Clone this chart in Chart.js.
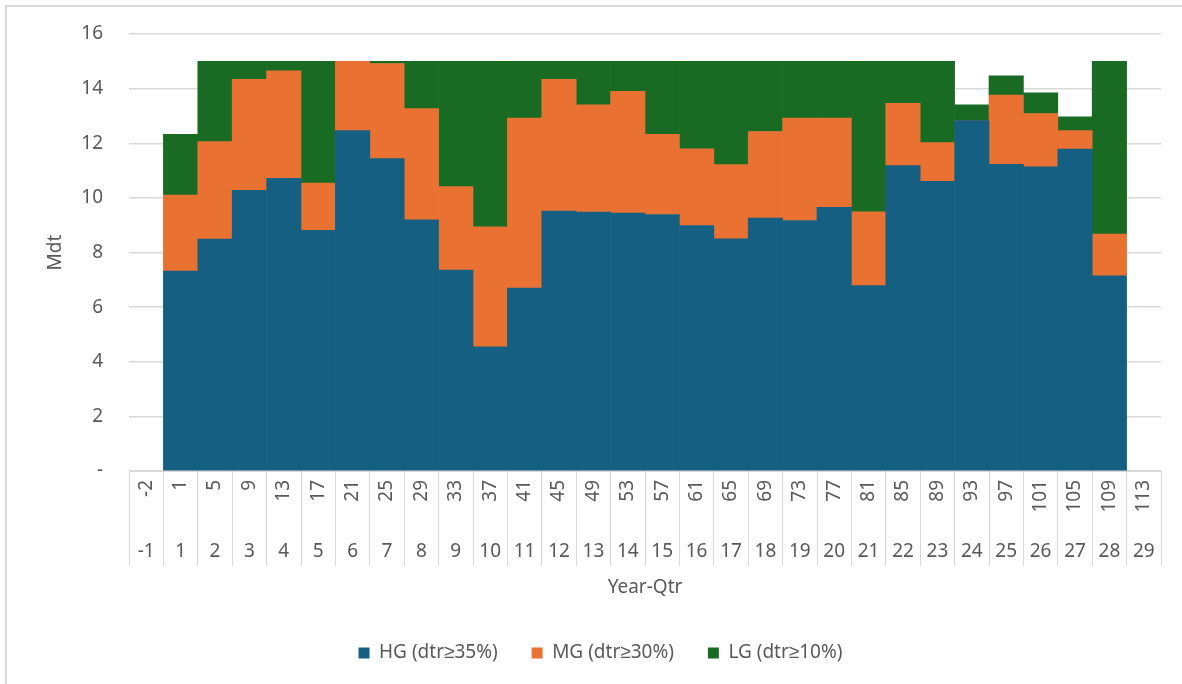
<!DOCTYPE html>
<html>
<head>
<meta charset="utf-8">
<script src="https://cdn.jsdelivr.net/npm/chart.js@4.4.1/dist/chart.umd.min.js"></script>
<style>
  html, body { margin: 0; padding: 0; background: #fff; }
  #cadre { position: absolute; left: 0; top: 0; width: 1182px; height: 684px; }
  #bord { position: absolute; left: 5px; top: 5px; width: 1200px; height: 700px;
          border-top: 2px solid #d9d9d9; border-left: 2px solid #d9d9d9; pointer-events: none; }
</style>
</head>
<body>
<div id="cadre"><canvas id="graphe"></canvas></div>
<div id="bord"></div>
<script>
// Etiquettes de l'axe X sur deux niveaux (ligne du haut tournée, ligne du bas horizontale)
const trimestresHaut = ['-2', '1', '5', '9', '13', '17', '21', '25', '29', '33', '37', '41', '45', '49', '53',
  '57', '61', '65', '69', '73', '77', '81', '85', '89', '93', '97', '101', '105', '109', '113'];
const trimestresBas = ['-1', '1', '2', '3', '4', '5', '6', '7', '8', '9', '10', '11', '12', '13', '14',
  '15', '16', '17', '18', '19', '20', '21', '22', '23', '24', '25', '26', '27', '28', '29'];

// Tonnages (Mdt) par qualité, empilés
const hg = [null, 7.32, 8.49, 10.28, 10.72, 8.81, 12.46, 11.44, 9.20, 7.36, 4.55, 6.70, 9.52, 9.48, 9.44,
  9.39, 8.99, 8.50, 9.26, 9.17, 9.65, 6.79, 11.18, 10.61, 12.83, 11.23, 11.14, 11.79, 7.15, null];
const mg = [null, 2.78, 3.57, 4.06, 3.93, 1.73, 2.54, 3.48, 4.07, 3.05, 4.39, 6.22, 4.82, 3.93, 4.46,
  2.94, 2.81, 2.72, 3.17, 3.75, 3.27, 2.70, 2.28, 1.41, 0, 2.53, 1.95, 0.67, 1.52, null];
const lg = [null, 2.23, 2.94, 0.66, 0.35, 4.46, 0, 0.08, 1.73, 4.59, 6.06, 2.08, 0.66, 1.59, 1.10,
  2.67, 3.20, 3.78, 2.57, 2.08, 2.08, 5.51, 1.54, 2.98, 0.58, 0.71, 0.76, 0.51, 6.33, null];

const gris = '#595959';
const grille = '#d9d9d9';
Chart.defaults.font.family = '"Noto Sans", sans-serif';
Chart.defaults.font.size = 19;
Chart.defaults.color = gris;

const ctx = document.getElementById('graphe').getContext('2d');
new Chart(ctx, {
  type: 'bar',
  data: {
    labels: trimestresHaut,
    datasets: [
      { label: 'HG (dtr≥35%)', data: hg, backgroundColor: '#156082' },
      { label: 'MG (dtr≥30%)', data: mg, backgroundColor: '#E97132' },
      { label: 'LG (dtr≥10%)', data: lg, backgroundColor: '#196B24' }
    ]
  },
  options: {
    responsive: true,
    maintainAspectRatio: false,
    animation: false,
    layout: { padding: { left: 40, right: 21, top: 34, bottom: 11.6 } },
    datasets: { bar: { barPercentage: 1, categoryPercentage: 1, borderWidth: 0 } },
    plugins: {
      legend: {
        position: 'bottom',
        labels: { boxWidth: 11, boxHeight: 11, padding: 34, color: gris }
      },
      tooltip: { enabled: false }
    },
    scales: {
      x: {
        stacked: true,
        offset: true,
        grid: { offset: true, drawOnChartArea: false, tickLength: 95, color: grille },
        border: { color: grille },
        ticks: { minRotation: 90, maxRotation: 90, autoSkip: false, padding: -86 },
        afterFit: s => { s.height = 45; }
      },
      x2: {
        type: 'category',
        labels: trimestresBas,
        position: 'bottom',
        offset: true,
        grid: { display: false, drawTicks: false },
        border: { display: false },
        ticks: { maxRotation: 0, autoSkip: false, padding: 24 },
        title: { display: true, text: 'Year-Qtr', padding: { top: 0, bottom: 10 } },
        afterFit: s => { s.height = 93.4; }
      },
      y: {
        stacked: true,
        min: 0,
        max: 16,
        ticks: { stepSize: 2, padding: 26, callback: v => v === 0 ? '-' : v },
        grid: { color: grille, drawTicks: false, lineWidth: 1.5 },
        border: { display: false },
        title: { display: true, text: 'Mdt', padding: { top: 4, bottom: 4 } },
        afterFit: s => { s.width = 89; s.paddingTop = 0; s.paddingBottom = 0; }
      }
    }
  }
});
</script>
</body>
</html>
